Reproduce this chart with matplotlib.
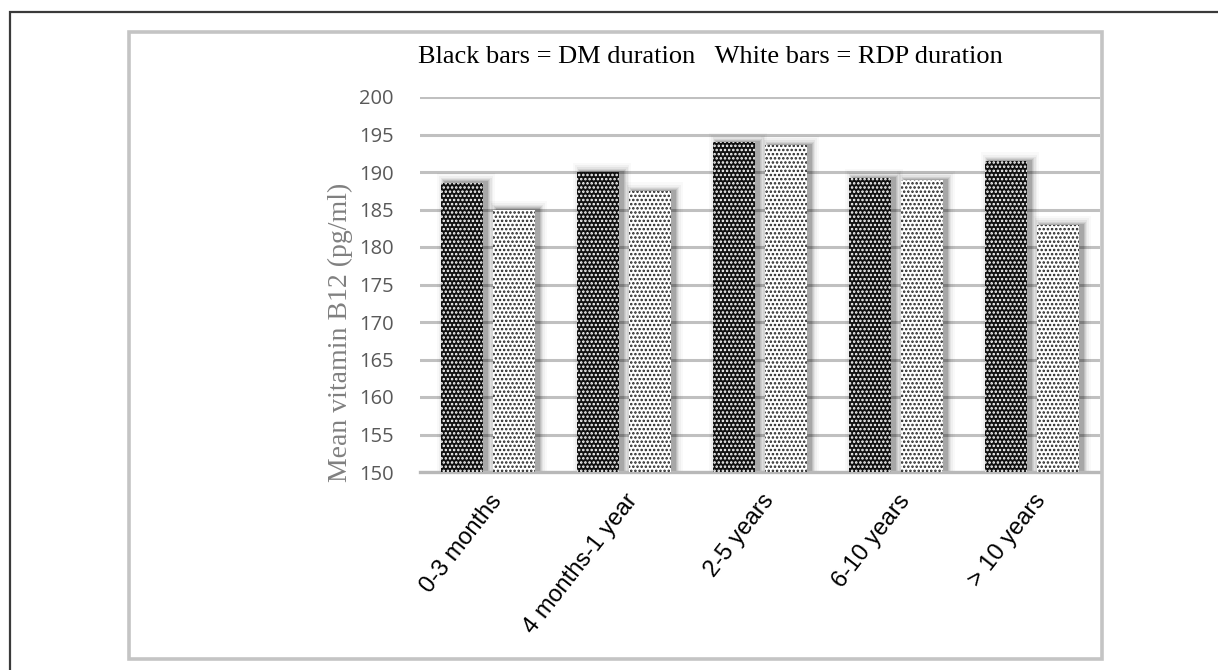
import matplotlib
matplotlib.use("Agg")
import matplotlib.pyplot as plt
import matplotlib.transforms as mtransforms
from matplotlib.patches import Rectangle
import numpy as np

categories = ["0-3 months", "4 months-1 year", "2-5 years", "6-10 years", "> 10 years"]
dm_duration = [188.6, 190.0, 194.0, 189.2, 191.4]
rdp_duration = [185.0, 187.4, 193.6, 188.9, 182.9]
y_ticks = [150, 155, 160, 165, 170, 175, 180, 185, 190, 195, 200]
header = "Black bars = DM duration   White bars = RDP duration"
y_label = "Mean vitamin B12 (pg/ml)"

plt.rcParams["hatch.linewidth"] = 1.2

fig = plt.figure(figsize=(12.18, 6.70), dpi=100)
W, H = 1218, 670

# outer dark frame and inner grey chart frame
fig.patches.append(Rectangle((10 / W, -0.05), 1.2, 1 - 12 / H + 0.05,
                             transform=fig.transFigure, fill=False,
                             edgecolor="#3a3a3a", linewidth=1.6))
fig.patches.append(Rectangle((129 / W, 1 - 659 / H), (1102 - 129) / W, (659 - 32) / H,
                             transform=fig.transFigure, fill=False,
                             edgecolor="#c4c4c4", linewidth=2.6))

ax = fig.add_axes([420 / W, 1 - 472 / H, (1100 - 420) / W, (472 - 97) / H])
ax.set_xlim(-0.5, len(categories) - 0.5)
ax.set_ylim(150, 200)
ax.set_yticks(y_ticks)
ax.set_yticklabels([str(t) for t in y_ticks])
ax.grid(axis="y", color="#c0c0c0", linewidth=2.2, zorder=0)
ax.set_axisbelow(True)
for s in ["left", "right", "top"]:
    ax.spines[s].set_visible(False)
ax.spines["bottom"].set_color("#b8b8b8")
ax.spines["bottom"].set_linewidth(2.4)
ax.tick_params(axis="y", length=0, pad=19, labelsize=14.5, labelcolor="#595959")
ax.tick_params(axis="x", length=0)
for lbl in ax.get_yticklabels():
    lbl.set_fontfamily("Open Sans")

x = np.arange(len(categories))
bar_w = 0.31
off = 0.19

# soft drop shadow under each bar, shifted a little to the right
layers = [(0.12, 0.025), (0.09, 0.035), (0.065, 0.05), (0.045, 0.07), (0.028, 0.09), (0.014, 0.12)]
shift = mtransforms.offset_copy(ax.transData, fig=fig, x=4, y=0, units="dots")
for widen, alpha in layers:
    for xs, vals in [(x - off, dm_duration), (x + off, rdp_duration)]:
        ax.bar(xs, [v - 150 + widen * 10 for v in vals], bottom=150, width=bar_w + widen,
               color="black", alpha=alpha, linewidth=0, zorder=1, transform=shift)

ax.bar(x - off, [v - 150 for v in dm_duration], bottom=150, width=bar_w,
       color="#111111", edgecolor="white", hatch="....", linewidth=0, zorder=3)
ax.bar(x + off, [v - 150 for v in rdp_duration], bottom=150, width=bar_w,
       color="white", edgecolor="#222222", hatch="....", linewidth=0, zorder=3)

ax.set_xticks(x)
ax.set_xticklabels(categories, rotation=52, ha="right", rotation_mode="anchor",
                   fontsize=17, family="Liberation Sans", color="black")
ax.tick_params(axis="x", pad=13)
for lbl in ax.get_xticklabels():
    lbl.set_transform(lbl.get_transform() + mtransforms.ScaledTranslation(1 / 100, 0, fig.dpi_scale_trans))

fig.text(340 / W, 1 - 332 / H, y_label, rotation=90, ha="center", va="center",
         fontsize=20, family="Liberation Serif", color="#808080")
fig.text(710 / W, 1 - 57 / H, header, ha="center", va="center",
         fontsize=19, family="Liberation Serif", color="black")

fig.savefig("out.png", dpi=100, facecolor="white")
